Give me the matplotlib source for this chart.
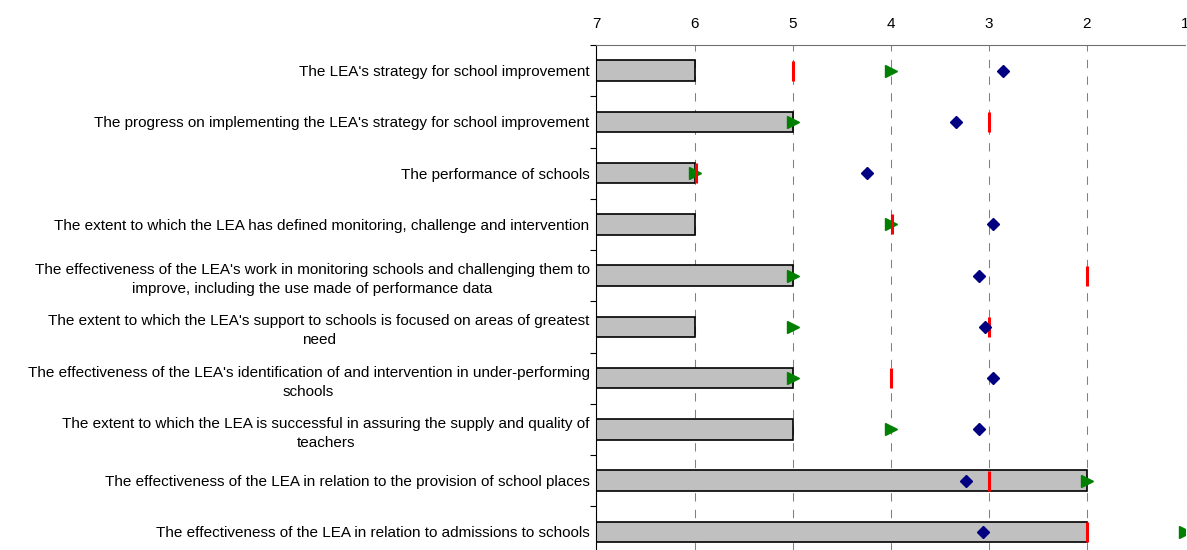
import numpy as np
import matplotlib.pyplot as plt

plt.rcParams['font.family'] = ['Liberation Sans', 'DejaVu Sans']

labels = [
    "The LEA's strategy for school improvement",
    "The progress on implementing the LEA's strategy for school improvement",
    "The performance of schools",
    "The extent to which the LEA has defined monitoring, challenge and intervention",
    "The effectiveness of the LEA's work in monitoring schools and challenging them to\nimprove, including the use made of performance data",
    "The extent to which the LEA's support to schools is focused on areas of greatest\nneed",
    "The effectiveness of the LEA's identification of and intervention in under-performing\nschools",
    "The extent to which the LEA is successful in assuring the supply and quality of\nteachers",
    "The effectiveness of the LEA in relation to the provision of school places",
    "The effectiveness of the LEA in relation to admissions to schools",
]

# grades (1 = best, 7 = worst)
bar_grade = [6, 5, 6, 6, 5, 6, 5, 5, 2, 2]
red_grade = [5, 3, 5.99, 3.99, 2, 3, 4, np.nan, 3, 2]
green_grade = [4, 5, 6, 4, 5, 5, 5, 4, 2, 1]
diamond_grade = [2.86, 3.33, 4.24, 2.96, 3.10, 3.04, 2.96, 3.10, 3.23, 3.06]

ticks = [7, 6, 5, 4, 3, 2, 1]

fig = plt.figure(figsize=(11.87, 5.5), dpi=100)
ax = fig.add_axes([0.5025, -0.0138, 0.4958, 0.9318])

y = np.arange(len(labels))
ax.barh(y, np.array(bar_grade) - 7, left=7, height=0.4,
        color='#C0C0C0', edgecolor='black', linewidth=1.2, zorder=2)

ax.plot(red_grade, y, linestyle='none', marker='|', markersize=15,
        markeredgewidth=2.2, color='#FF0000', zorder=4)
ax.plot(green_grade, y, linestyle='none', marker='>', markersize=9,
        color='#008000', zorder=3)
ax.plot(diamond_grade, y, linestyle='none', marker='D', markersize=6.5,
        color='#000080', zorder=5)

ax.set_xlim(7, 1)
ax.set_ylim(len(labels) - 0.5, -0.5)
ax.set_xticks(ticks)
ax.set_xticklabels([str(t) for t in ticks])
ax.xaxis.tick_top()
ax.tick_params(axis='x', length=0, pad=10, labelsize=11)

ax.set_yticks(y)
ax.set_yticklabels(labels)
ax.set_yticks(np.arange(len(labels) + 1) - 0.5, minor=True)
ax.tick_params(axis='y', which='major', length=0, pad=5, labelsize=11)
ax.tick_params(axis='y', which='minor', length=4, width=0.8, direction='out')
for t in ax.get_yticklabels():
    t.set_multialignment('center')
    t.set_linespacing(1.45)

ax.grid(axis='x', color='#808080', linestyle=(0, (8, 8)), linewidth=0.75, zorder=0)
ax.set_axisbelow(True)

ax.spines['right'].set_visible(False)
ax.spines['bottom'].set_visible(False)
ax.spines['top'].set_color('#707070')
ax.spines['left'].set_color('black')

fig.savefig('out.png', dpi=100)
